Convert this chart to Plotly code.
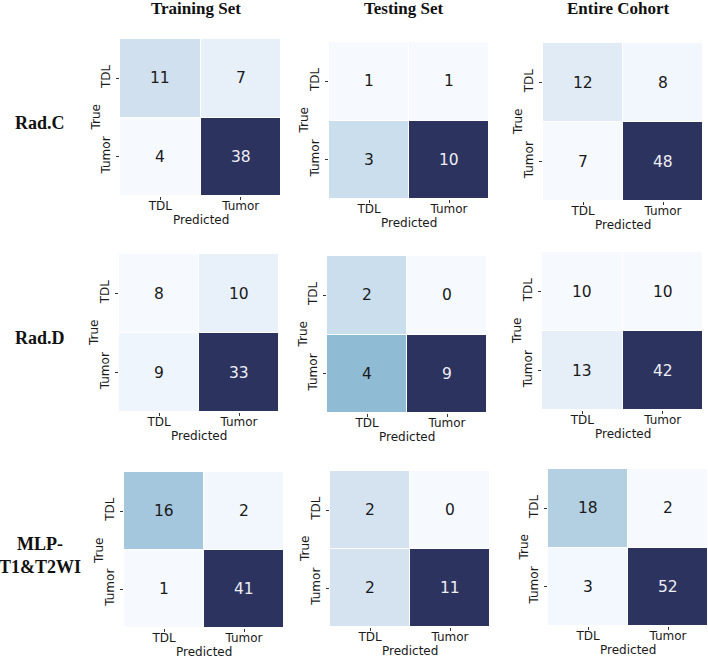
import plotly.graph_objects as go

# ── Data ───────────────────────────────────────────────────────────────────────
CLASSES = ["TDL", "Tumor"]
COLUMNS = ["Training Set", "Testing Set", "Entire Cohort"]
MODELS = ["Rad.C", "Rad.D", "MLP-<br>T1&T2WI"]

rad_c_train = [[11, 7], [4, 38]]
rad_c_test = [[1, 1], [3, 10]]
rad_c_all = [[12, 8], [7, 48]]

rad_d_train = [[8, 10], [9, 33]]
rad_d_test = [[2, 0], [4, 9]]
rad_d_all = [[10, 10], [13, 42]]

mlp_train = [[16, 2], [1, 41]]
mlp_test = [[2, 0], [2, 11]]
mlp_all = [[18, 2], [3, 52]]

MATRICES = [
    [rad_c_train, rad_c_test, rad_c_all],
    [rad_d_train, rad_d_test, rad_d_all],
    [mlp_train, mlp_test, mlp_all],
]

# ── Style ──────────────────────────────────────────────────────────────────────
W, H = 708, 658
COLORSCALE = [
    [0.0, "#f6faff"],
    [0.1, "#e5eef8"],
    [0.2, "#d1e1ef"],
    [0.32, "#b3cfe2"],
    [0.38, "#a3c6dc"],
    [0.45, "#8dbbd3"],
    [0.7, "#4f6f9c"],
    [1.0, "#2d335f"],
]
TICK_FONT = dict(family="DejaVu Sans", size=12, color="#1a1a1a")
CELL_FONT_SIZE = 15.5
SERIF = "Liberation Serif, Times New Roman, serif"

# panel boxes in pixels: (left, right, top, bottom)
BOXES = [
    [(120, 281, 39, 196), (329, 489, 42, 199), (543, 703, 43, 201)],
    [(119, 279, 254, 412), (327, 487, 256, 413), (542, 703, 252, 410)],
    [(124, 284, 472, 628), (330, 490, 471, 627), (548, 708, 469, 626)],
]


def px_x(x):
    return x / W


def px_y(y):
    return 1 - y / H


def paper_text(x, y, text, font, **kw):
    return dict(
        x=px_x(x),
        y=px_y(y),
        xref="paper",
        yref="paper",
        xanchor="center",
        yanchor="middle",
        text=text,
        showarrow=False,
        font=font,
        **kw,
    )


fig = go.Figure()
annotations = []

for r, row in enumerate(MATRICES):
    for c, z in enumerate(row):
        idx = r * 3 + c + 1
        xa = "x" if idx == 1 else f"x{idx}"
        ya = "y" if idx == 1 else f"y{idx}"
        flat = [v for line in z for v in line]
        zmin, zmax = min(flat), max(flat)
        fig.add_trace(
            go.Heatmap(
                z=z,
                x=CLASSES,
                y=CLASSES,
                xaxis=xa,
                yaxis=ya,
                colorscale=COLORSCALE,
                zmin=zmin,
                zmax=zmax,
                showscale=False,
                xgap=1,
                ygap=1,
                hoverinfo="skip",
            )
        )
        for i, true_lbl in enumerate(CLASSES):
            for j, pred_lbl in enumerate(CLASSES):
                v = z[i][j]
                frac = (v - zmin) / (zmax - zmin) if zmax > zmin else 0
                annotations.append(
                    dict(
                        x=pred_lbl,
                        y=true_lbl,
                        xref=xa,
                        yref=ya,
                        text=str(v),
                        showarrow=False,
                        font=dict(
                            family="DejaVu Sans",
                            size=CELL_FONT_SIZE,
                            color="#eeeef4" if frac > 0.6 else "#1a1a1a",
                        ),
                    )
                )

        left, right, top, bottom = BOXES[r][c]
        axis_common = dict(
            ticks="outside",
            ticklen=3,
            tickwidth=1,
            tickcolor="#333333",
            tickfont=TICK_FONT,
            showgrid=False,
            zeroline=False,
            showline=False,
            fixedrange=True,
        )
        fig.update_layout(
            {
                ("xaxis" if idx == 1 else f"xaxis{idx}"): dict(
                    domain=[px_x(left), px_x(right)],
                    anchor=ya,
                    ticklabelstandoff=-4,
                    **axis_common,
                ),
                ("yaxis" if idx == 1 else f"yaxis{idx}"): dict(
                    domain=[px_y(bottom), px_y(top)],
                    anchor=xa,
                    autorange="reversed",
                    tickangle=-90,
                    ticklabelstandoff=1,
                    **axis_common,
                ),
            }
        )
        # axis titles
        annotations.append(
            paper_text((left + right) / 2, bottom + 24, "Predicted", TICK_FONT)
        )
        annotations.append(
            paper_text(left - 25, (top + bottom) / 2, "True", TICK_FONT, textangle=-90)
        )

# column headers
for c, title in enumerate(COLUMNS):
    left, right, _, _ = BOXES[0][c]
    annotations.append(
        paper_text(
            (left + right) / 2 - 5,
            8,
            f"<b>{title}</b>",
            dict(family=SERIF, size=17, color="#111111"),
        )
    )

# row labels
for r, model in enumerate(MODELS):
    _, _, top, bottom = BOXES[r][0]
    annotations.append(
        paper_text(
            40,
            (top + bottom) / 2 + 5,
            f"<b>{model}</b>",
            dict(family=SERIF, size=18, color="#111111"),
        )
    )

fig.update_layout(
    width=W,
    height=H,
    margin=dict(l=0, r=0, t=0, b=0),
    paper_bgcolor="white",
    plot_bgcolor="white",
    annotations=annotations,
    showlegend=False,
)

# drop the page's default 8px body margin so the figure sits at (0, 0)
fig.write_html(
    "out.html",
    config={"displayModeBar": False},
    post_script="document.body.style.margin='0';",
)
